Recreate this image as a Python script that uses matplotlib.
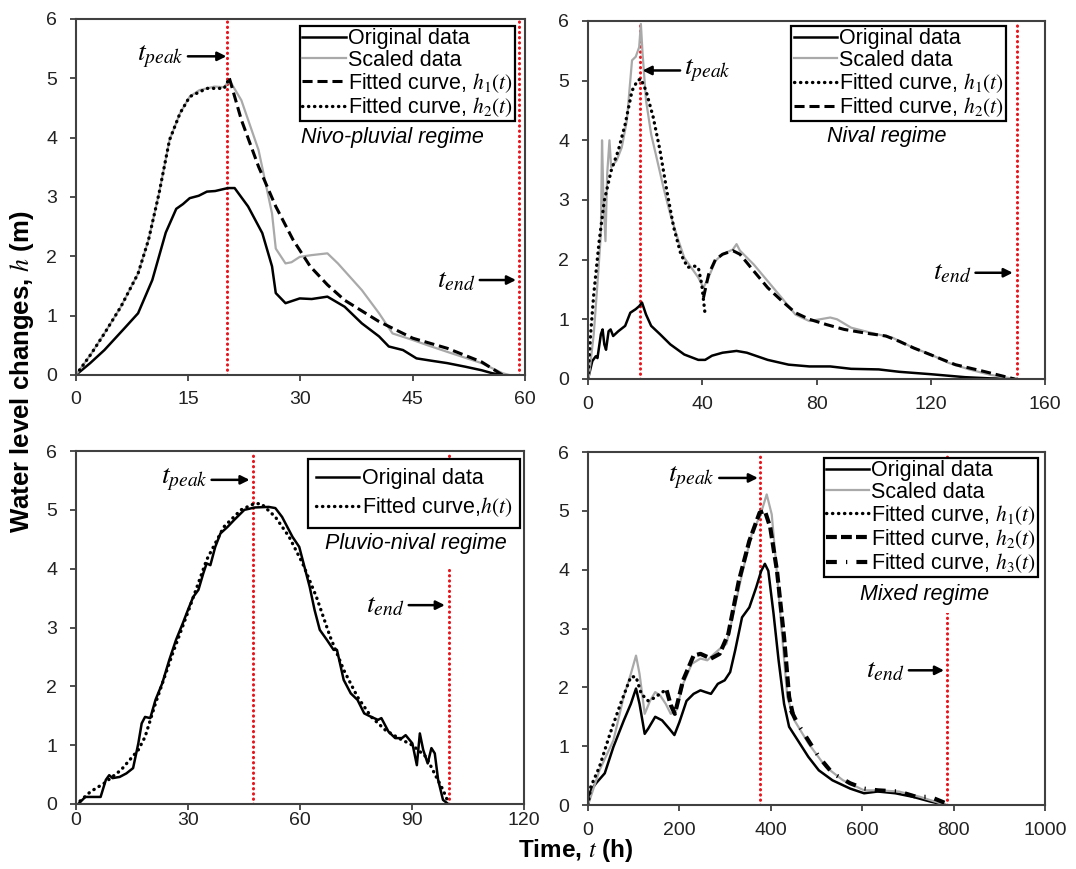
import matplotlib
matplotlib.use("Agg")
import matplotlib.pyplot as plt

plt.rcParams['font.family'] = ['Liberation Sans', 'DejaVu Sans']
plt.rcParams['mathtext.fontset'] = 'stix'

# ---- Nivo-pluvial regime (top left) ----
tl_orig_t = [0, 1.9, 3.8, 6.5, 8.3, 10.2, 12, 13.4, 14.3, 15.2, 16.4, 17.5, 18.6, 20.3, 21.2, 23, 24.9, 26.2,
             26.7, 28, 29.9, 31.5, 33.6, 35.9, 38.2, 40.5, 41.8, 43.7, 45.5, 47.5, 49.6, 52, 54.2, 55.6, 57]
tl_orig_h = [0, 0.2, 0.42, 0.79, 1.04, 1.6, 2.4, 2.8, 2.88, 2.98, 3.02, 3.09, 3.1, 3.15, 3.15, 2.84, 2.39, 1.83,
             1.38, 1.21, 1.29, 1.28, 1.32, 1.15, 0.87, 0.65, 0.48, 0.42, 0.28, 0.24, 0.2, 0.14, 0.08, 0.03, 0]
tl_scal_t = [0, 2, 3.8, 6, 8.3, 9.7, 11.1, 12.5, 13.9, 15.2, 16.5, 17.5, 18.5, 19.8, 20.5, 22.1, 24.4, 26.2, 26.7,
             28, 28.8, 29.9, 31.5, 33.6, 35, 38.2, 40.5, 42.3, 45, 47, 49.6, 54.2, 57, 57.9]
tl_scal_h = [0, 0.35, 0.7, 1.15, 1.71, 2.28, 3.06, 3.96, 4.41, 4.69, 4.8, 4.83, 4.86, 4.85, 4.97, 4.63, 3.79, 2.72,
             2.13, 1.88, 1.9, 1.99, 2.02, 2.05, 1.88, 1.43, 1.04, 0.70, 0.59, 0.5, 0.39, 0.2, 0.03, 0]
tl_h1_t = [20.5, 22.1, 24.4, 26.7, 29, 31.3, 33.6, 35.9, 40.5, 45, 49.6, 54.2, 57]
tl_h1_h = [5.0, 4.3, 3.51, 2.84, 2.28, 1.83, 1.52, 1.26, 0.9, 0.62, 0.45, 0.22, 0]
tl_h2_t = [0, 2, 3.8, 6, 8.3, 9.7, 11.1, 12.5, 13.9, 15.2, 17.5, 19.8, 20.5]
tl_h2_h = [0, 0.35, 0.7, 1.15, 1.71, 2.28, 3.06, 3.96, 4.41, 4.69, 4.83, 4.83, 5.0]
tl_peak, tl_end = 20.2, 59.2

# ---- Nival regime (top right) ----
tr_orig_t = [0, 1.5, 2.7, 3.3, 4.5, 5.1, 5.7, 6.3, 7.2, 7.9, 8.8, 10.6, 13, 14.8, 16.7, 17.9, 18.9, 20.3, 22.1,
             25.2, 28.8, 33.7, 38.6, 41, 43.4, 47.1, 52, 55.6, 62.9, 70.2, 77.5, 84.8, 92.1, 101.8, 109, 120,
             132, 140.8, 150]
tr_orig_h = [0, 0.3, 0.38, 0.35, 0.75, 0.83, 0.58, 0.49, 0.8, 0.83, 0.72, 0.8, 0.89, 1.11, 1.17, 1.22, 1.28, 1.08,
             0.89, 0.75, 0.58, 0.41, 0.32, 0.32, 0.39, 0.44, 0.47, 0.44, 0.32, 0.24, 0.21, 0.21, 0.17, 0.16, 0.12,
             0.08, 0.03, 0.01, 0]
tr_scal_t = [0.2, 2, 3.3, 4.5, 4.9, 5.4, 6.1, 6.7, 7.5, 8.1, 10, 11.8, 13.6, 15.4, 16.7, 17.9, 18.5, 19.1, 20.3,
             22.1, 24, 26.4, 28.8, 31.3, 33.7, 36.1, 38.6, 40.4, 42.2, 44.6, 47.1, 50.7, 52, 53.2, 58, 62.9,
             67.8, 72.6, 77.5, 81.2, 84.8, 87.2, 92.1, 99.4, 106.7, 114, 120, 126.2, 133.5, 140.8, 149.3]
tr_scal_h = [0, 0.75, 1.6, 2.43, 4.0, 3.0, 2.31, 3.43, 4.0, 3.55, 3.66, 3.88, 4.33, 5.34, 5.4, 5.56, 5.95, 5.45,
             4.67, 4.1, 3.71, 3.21, 2.76, 2.37, 2.03, 1.87, 1.7, 1.53, 1.7, 1.98, 2.09, 2.17, 2.26, 2.15, 1.92,
             1.64, 1.36, 1.08, 0.97, 1.0, 1.03, 1.0, 0.86, 0.77, 0.69, 0.52, 0.41, 0.27, 0.16, 0.07, 0]
tr_h1_t = [0, 0.9, 2, 3.9, 5.7, 8.1, 10.6, 13, 15.4, 17.3, 18.5, 20.3, 22.8, 25.2, 27.6, 30, 32.5, 34.9, 37.3,
           38.6, 39.8, 41]
tr_h1_h = [0, 0.75, 1.42, 2.31, 2.99, 3.49, 3.83, 4.27, 4.83, 5.0, 5.03, 4.83, 4.39, 3.83, 3.15, 2.54, 2.09,
           1.87, 1.89, 1.87, 1.59, 1.08]
tr_h2_t = [40.4, 42.2, 44.6, 47.1, 50.7, 53.2, 58, 62.9, 67.8, 72.6, 77.5, 83.6, 89.7, 97, 104.3, 109, 114,
           121.3, 128.6, 138.3, 149.3]
tr_h2_h = [1.36, 1.75, 2.0, 2.09, 2.15, 2.09, 1.81, 1.53, 1.31, 1.11, 1.0, 0.91, 0.83, 0.77, 0.72, 0.63, 0.52,
           0.38, 0.24, 0.13, 0]
tr_peak, tr_end = 18.25, 150.2

# ---- Pluvio-nival regime (bottom left) ----
bl_orig_t = [0.6, 2.5, 6.6, 8, 8.9, 9.8, 11.7, 13.5, 15.3, 16.7, 17.6, 18.5, 19.9, 21.3, 23.1, 25, 26.8, 28.6, 30,
             31.4, 32.8, 34.1, 35, 36, 37.3, 38.7, 40.6, 42.4, 45.1, 47.9, 51.6, 53.4, 55.2, 58, 59.8, 61.2,
             62.6, 63.9, 65.3, 67.2, 69, 69.9, 71.7, 73.6, 75.4, 77.2, 79.1, 80.9, 81.8, 83.7, 85.5, 87.3, 88.3,
             90.1, 91.3, 92.1, 93, 94.2, 95.2, 96.1, 97, 98.3, 99.7]
bl_orig_h = [0, 0.12, 0.12, 0.41, 0.49, 0.44, 0.46, 0.52, 0.61, 1.03, 1.37, 1.48, 1.46, 1.77, 2.05, 2.45, 2.79,
             3.07, 3.3, 3.52, 3.64, 3.92, 4.09, 4.06, 4.37, 4.6, 4.71, 4.83, 5.0, 5.04, 5.05, 5.03, 4.88, 4.54,
             4.37, 4.03, 3.69, 3.3, 2.96, 2.79, 2.62, 2.62, 2.11, 1.88, 1.77, 1.54, 1.48, 1.43, 1.46, 1.23, 1.12,
             1.12, 1.17, 1.03, 0.66, 1.2, 0.92, 0.69, 0.95, 0.86, 0.41, 0.07, 0]
bl_fit_t = [1.1, 3.9, 7.5, 12.1, 16.7, 18.5, 21.3, 25.9, 30.5, 35, 39.6, 44.2, 47.9, 49.7, 53.4, 57.1, 60.7,
            64.4, 68.1, 71.7, 75.4, 79.1, 82.8, 86.4, 90.1, 93.8, 96.5, 98.3, 99.7]
bl_fit_h = [0.05, 0.21, 0.35, 0.58, 0.92, 1.14, 1.71, 2.56, 3.35, 4.15, 4.71, 5.0, 5.11, 5.1, 4.88, 4.54, 4.09,
            3.52, 2.84, 2.28, 1.82, 1.48, 1.26, 1.12, 1.0, 0.8, 0.46, 0.24, 0.03]
bl_peak, bl_end = 47.4, 99.9

# ---- Mixed regime (bottom right) ----
br_orig_t = [0, 6, 17.5, 36.6, 55.6, 78.4, 93.7, 101, 105, 112.7, 124, 131.8, 147, 162, 177.5, 189, 200, 215.5,
             231, 246, 257, 269, 284, 299, 311, 322, 337, 353, 368, 379, 387, 394.5, 406, 417, 429, 440, 459,
             482, 505, 535, 573.5, 604, 634, 672.5, 710.6, 748.7, 783]
br_orig_h = [0, 0.25, 0.37, 0.54, 0.99, 1.44, 1.72, 1.89, 1.98, 1.72, 1.21, 1.3, 1.5, 1.44, 1.3, 1.19, 1.41, 1.77,
             1.89, 1.95, 1.92, 1.89, 2.06, 2.12, 2.26, 2.63, 3.19, 3.36, 3.7, 3.98, 4.1, 3.98, 3.25, 2.46, 1.72,
             1.33, 1.1, 0.82, 0.59, 0.42, 0.28, 0.2, 0.23, 0.2, 0.14, 0.06, 0]
br_scal_t = [0, 25, 55.6, 78, 93.7, 105, 112.7, 124, 135.6, 147, 158, 170, 181, 193, 208, 227, 246, 261, 276,
             292, 303, 318, 337, 360, 375.5, 391, 402, 413.5, 425, 436, 451.6, 482, 520, 558, 604, 634, 680,
             726, 783]
br_scal_h = [0, 0.59, 1.1, 1.84, 2.23, 2.54, 2.23, 1.55, 1.77, 1.92, 1.86, 1.72, 1.55, 1.61, 2.06, 2.4, 2.49,
             2.46, 2.57, 2.68, 2.74, 3.25, 3.93, 4.66, 4.89, 5.28, 4.94, 3.93, 2.85, 1.84, 1.44, 1.05, 0.65, 0.42,
             0.25, 0.25, 0.23, 0.14, 0]
br_h1_t = [0, 6, 25, 48, 71, 93.7, 105, 116.5, 131.8, 147, 162, 172]
br_h1_h = [0, 0.31, 0.65, 1.21, 1.72, 2.18, 2.18, 1.89, 1.77, 1.83, 1.92, 1.95]
br_h2_t = [172, 181, 190, 208, 231, 246, 269, 288, 307, 330, 353, 375.5, 387, 398.7, 413.5, 429, 440, 448]
br_h2_h = [1.95, 1.7, 1.55, 2.12, 2.54, 2.57, 2.49, 2.57, 2.91, 3.81, 4.49, 4.97, 5.0, 4.72, 3.98, 2.85, 1.84,
           1.55]
br_h3_t = [444, 459, 482, 505, 535, 573.5, 604, 634, 680, 718, 748.7, 783]
br_h3_h = [1.61, 1.38, 1.1, 0.82, 0.54, 0.37, 0.28, 0.25, 0.23, 0.14, 0.14, 0.03]
br_peak, br_end = 375.5, 785

GRAY = '#a9a9a9'
RED = '#e8141c'
DOT = (0, (0.1, 1.7))
DASH = (0, (3.3, 1.6))
DASHDOT = (0, (2.6, 2.2, 0.3, 2.2))
FS = 14
LFS = 15.5

fig = plt.figure(figsize=(10.76, 8.69), dpi=100)
ax_tl = fig.add_axes([0.0706, 0.5685, 0.4173, 0.4097])
ax_tr = fig.add_axes([0.5465, 0.5639, 0.4247, 0.412])
ax_bl = fig.add_axes([0.0706, 0.0748, 0.4164, 0.4062])
ax_br = fig.add_axes([0.5465, 0.0736, 0.4247, 0.4062])


def style_axis(ax, xmax, xstep, xpad=7):
    ax.set_xlim(0, xmax)
    ax.set_ylim(0, 6)
    ax.set_xticks(range(0, xmax + 1, xstep))
    ax.set_yticks(range(0, 7))
    ax.tick_params(direction='out', length=4.5, width=1.3, labelsize=FS, colors='#404040',
                   labelcolor='#222222')
    ax.tick_params(axis='y', pad=9)
    ax.tick_params(axis='x', pad=xpad)
    for s in ax.spines.values():
        s.set_linewidth(1.5)
        s.set_color('#404040')


def add_legend(ax, x, y, spacing=0.02, bpad=0.1):
    leg = ax.legend(loc='upper right', bbox_to_anchor=(x, y), fontsize=LFS, frameon=True, fancybox=False,
                    edgecolor='black', framealpha=1, borderaxespad=0, borderpad=bpad, labelspacing=spacing,
                    handlelength=2.0, handletextpad=0.1)
    leg.get_frame().set_linewidth(1.6)
    leg.set_zorder(8)
    return leg


def marker_lines(ax, peak, end):
    ax.axvline(peak, color=RED, ls=(0, (0.1, 1.6)), lw=2.2, dash_capstyle='round', zorder=1)
    ax.axvline(end, color=RED, ls=(0, (0.1, 1.6)), lw=2.2, dash_capstyle='round', zorder=1)


def arrow_label(ax, label, tip, start, ha):
    ax.annotate(label, xy=tip, xytext=start, ha=ha, va='center', fontsize=20,
                arrowprops=dict(arrowstyle='-|>', color='black', lw=1.8, mutation_scale=13,
                                shrinkA=1, shrinkB=0))


def regime(ax, x, y, label, pad=1):
    ax.text(x, y, label, ha='center', va='center', style='italic', fontsize=LFS, zorder=4,
            bbox=dict(facecolor='white', edgecolor='none', pad=pad))


# top left
ax = ax_tl
marker_lines(ax, tl_peak, tl_end)
ax.plot(tl_orig_t, tl_orig_h, color='black', lw=1.8, label='Original data')
ax.plot(tl_scal_t, tl_scal_h, color=GRAY, lw=1.6, label='Scaled data')
ax.plot(tl_h1_t, tl_h1_h, color='black', lw=2.2, ls=DASH, label='Fitted curve, $h_1(t)$')
ax.plot(tl_h2_t, tl_h2_h, color='black', lw=2.4, ls=DOT, dash_capstyle='round', label='Fitted curve, $h_2(t)$')
style_axis(ax, 60, 15)
add_legend(ax, 0.977, 0.98)
regime(ax, 42.3, 4.0, 'Nivo-pluvial regime')
arrow_label(ax, '$t_{peak}$', (20.1, 5.37), (14.4, 5.37), 'right')
arrow_label(ax, '$t_{end}$', (58.8, 1.6), (53.4, 1.6), 'right')

# top right
ax = ax_tr
marker_lines(ax, tr_peak, tr_end)
ax.plot(tr_orig_t, tr_orig_h, color='black', lw=1.8, label='Original data')
ax.plot(tr_scal_t, tr_scal_h, color=GRAY, lw=1.6, label='Scaled data')
ax.plot(tr_h1_t, tr_h1_h, color='black', lw=2.4, ls=DOT, dash_capstyle='round', label='Fitted curve, $h_1(t)$')
ax.plot(tr_h2_t, tr_h2_h, color='black', lw=2.2, ls=DASH, label='Fitted curve, $h_2(t)$')
style_axis(ax, 160, 40, xpad=8)
add_legend(ax, 0.914, 0.985)
regime(ax, 104.5, 4.06, 'Nival regime')
arrow_label(ax, '$t_{peak}$', (19.1, 5.17), (33.7, 5.17), 'left')
arrow_label(ax, '$t_{end}$', (148.7, 1.78), (134.2, 1.78), 'right')

# bottom left
ax = ax_bl
marker_lines(ax, bl_peak, bl_end)
ax.plot(bl_orig_t, bl_orig_h, color='black', lw=1.8, label='Original data')
ax.plot(bl_fit_t, bl_fit_h, color='black', lw=2.4, ls=DOT, dash_capstyle='round', label='Fitted curve,$h(t)$')
style_axis(ax, 120, 30, xpad=1.5)
add_legend(ax, 0.992, 0.976, spacing=0.3, bpad=0.4)
regime(ax, 91, 4.43, 'Pluvio-nival regime', pad=10)
arrow_label(ax, '$t_{peak}$', (46.5, 5.51), (35.2, 5.51), 'right')
arrow_label(ax, '$t_{end}$', (98.8, 3.38), (88, 3.38), 'right')

# bottom right
ax = ax_br
marker_lines(ax, br_peak, br_end)
ax.plot(br_orig_t, br_orig_h, color='black', lw=1.8, label='Original data')
ax.plot(br_scal_t, br_scal_h, color=GRAY, lw=1.6, label='Scaled data')
ax.plot(br_h1_t, br_h1_h, color='black', lw=2.4, ls=DOT, dash_capstyle='round', label='Fitted curve, $h_1(t)$')
ax.plot(br_h2_t, br_h2_h, color='black', lw=3.0, ls=(0, (2.6, 1.0)), label='Fitted curve, $h_2(t)$')
ax.plot(br_h3_t, br_h3_h, color='black', lw=3.0, ls=DASHDOT, label='Fitted curve, $h_3(t)$')
style_axis(ax, 1000, 200, xpad=8)
add_legend(ax, 0.985, 0.983)
regime(ax, 737, 3.58, 'Mixed regime', pad=6)
arrow_label(ax, '$t_{peak}$', (371.7, 5.56), (278, 5.56), 'right')
arrow_label(ax, '$t_{end}$', (779, 2.29), (693, 2.29), 'right')

fig.text(0.02, 0.572, 'Water level changes, $h$ (m)', rotation=90, ha='center', va='center',
         fontsize=18.5, fontweight='bold')
fig.text(0.535, 0.021, 'Time, $t$ (h)', ha='center', va='center', fontsize=17.5, fontweight='bold')

fig.savefig('out.png', dpi=100)
